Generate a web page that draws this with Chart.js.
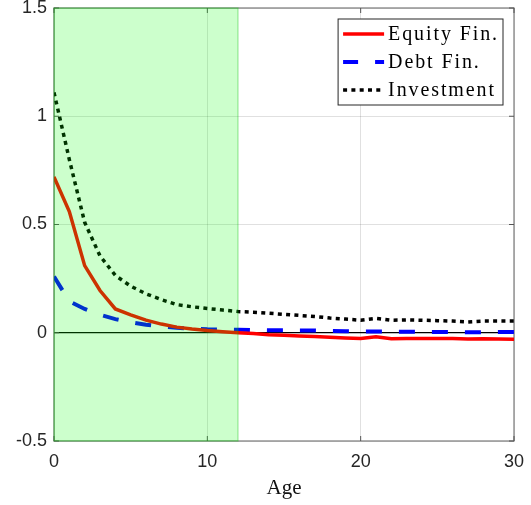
<!DOCTYPE html>
<html>
<head>
<meta charset="utf-8">
<script src="https://cdn.jsdelivr.net/npm/chart.js@4"></script>
<style>
  html, body { margin: 0; padding: 0; background: #fff; }
  #wrap { width: 531px; height: 505px; }
</style>
</head>
<body>
<div id="wrap"><canvas id="chart" width="531" height="505"></canvas></div>
<script>
// data
const ages = [0, 1, 2, 3, 4, 5, 6, 7, 8, 9, 10, 11, 12, 13, 14, 15, 16, 17, 18, 19, 20, 21, 22, 23, 24, 25, 26, 27, 28, 29, 30];
const equityFin = [0.72, 0.56, 0.31, 0.195, 0.11, 0.083, 0.058, 0.04, 0.026, 0.017, 0.01, 0.005, 0.0, -0.004, -0.009, -0.012, -0.015, -0.017, -0.021, -0.024, -0.026, -0.018, -0.028, -0.027, -0.026, -0.027, -0.027, -0.029, -0.028, -0.029, -0.03];
const debtFin = [0.26, 0.145, 0.11, 0.083, 0.063, 0.048, 0.037, 0.029, 0.023, 0.019, 0.016, 0.015, 0.014, 0.012, 0.011, 0.011, 0.01, 0.01, 0.008, 0.007, 0.006, 0.006, 0.005, 0.005, 0.004, 0.004, 0.003, 0.002, 0.003, 0.003, 0.003];
const investment = [1.11, 0.8, 0.51, 0.355, 0.265, 0.215, 0.18, 0.153, 0.13, 0.12, 0.112, 0.105, 0.098, 0.095, 0.09, 0.085, 0.08, 0.075, 0.068, 0.063, 0.058, 0.066, 0.058, 0.059, 0.058, 0.056, 0.054, 0.05, 0.054, 0.054, 0.054];
const seriesNames = ["Equity Fin.", "Debt Fin.", "Investment"];
const xTicks = [0, 10, 20, 30];
const yTicks = [-0.5, 0, 0.5, 1, 1.5];
const shadeAges = [0, 12];

const axisColor = "#262626";
const tickFont = { family: "'Liberation Sans', Arial, sans-serif", size: 18 };
const serif = "'Liberation Serif', 'Times New Roman', serif";

function pairs(vals) {
  return ages.map((a, i) => ({ x: a, y: vals[i] }));
}

const styles = [
  { color: "#ff0000", width: 3.5, dash: [] },
  { color: "#0000ff", width: 4, dash: [16, 17] },
  { color: "#000000", width: 3.5, dash: [4, 4.3] }
];

// axis box + inward ticks
const boxPlugin = {
  id: "box",
  beforeDatasetsDraw(chart) {
    const { ctx, chartArea: a, scales } = chart;
    ctx.save();
    ctx.strokeStyle = "#7a7a7a";
    ctx.lineWidth = 1.2;
    ctx.strokeRect(a.left, a.top, a.right - a.left, a.bottom - a.top);
    ctx.strokeStyle = "#555";
    ctx.lineWidth = 1;
    ctx.beginPath();
    xTicks.forEach(v => {
      const px = scales.x.getPixelForValue(v);
      ctx.moveTo(px, a.bottom); ctx.lineTo(px, a.bottom - 5);
      ctx.moveTo(px, a.top); ctx.lineTo(px, a.top + 5);
    });
    yTicks.forEach(v => {
      const py = scales.y.getPixelForValue(v);
      ctx.moveTo(a.left, py); ctx.lineTo(a.left + 5, py);
      ctx.moveTo(a.right, py); ctx.lineTo(a.right - 5, py);
    });
    ctx.stroke();
    ctx.restore();
  }
};

// translucent green band, drawn over lines
const shadePlugin = {
  id: "shade",
  afterDatasetsDraw(chart) {
    const { ctx, chartArea: a, scales } = chart;
    const x0 = scales.x.getPixelForValue(shadeAges[0]);
    const x1 = scales.x.getPixelForValue(shadeAges[1]);
    ctx.save();
    ctx.fillStyle = "rgba(0,255,0,0.2)";
    ctx.fillRect(x0, a.top, x1 - x0, a.bottom - a.top);
    ctx.strokeStyle = "rgba(0,190,0,0.35)";
    ctx.lineWidth = 1.2;
    ctx.strokeRect(x0, a.top, x1 - x0, a.bottom - a.top);
    ctx.restore();
  }
};

// boxed legend, top right
const legendPlugin = {
  id: "boxLegend",
  afterDraw(chart) {
    const { ctx, chartArea: a } = chart;
    ctx.save();
    ctx.font = "20px " + serif;
    ctx.letterSpacing = "1.9px";
    const textW = Math.max(...seriesNames.map(n => ctx.measureText(n).width));
    const right = a.right - 11;
    const top = a.top + 11;
    const sample = 41;
    const w = 5 + sample + 4 + textW + 4;
    const left = right - w;
    const h = 86;
    ctx.fillStyle = "#fff";
    ctx.fillRect(left, top, w, h);
    ctx.strokeStyle = axisColor;
    ctx.lineWidth = 1;
    ctx.strokeRect(left, top, w, h);
    seriesNames.forEach((name, i) => {
      const cy = top + 15 + i * 28;
      const s = styles[i];
      ctx.beginPath();
      ctx.setLineDash(i === 1 ? [15, 17] : s.dash);
      ctx.lineCap = "butt";
      ctx.strokeStyle = s.color;
      ctx.lineWidth = s.width;
      ctx.moveTo(left + 5, cy);
      ctx.lineTo(left + 5 + sample, cy);
      ctx.stroke();
      ctx.setLineDash([]);
      ctx.fillStyle = "#000";
      ctx.textBaseline = "middle";
      ctx.textAlign = "left";
      ctx.fillText(name, left + 5 + sample + 4, cy + 1);
    });
    ctx.restore();
  }
};

const datasets = [equityFin, debtFin, investment].map((vals, i) => ({
  label: seriesNames[i],
  data: pairs(vals),
  borderColor: styles[i].color,
  borderWidth: styles[i].width,
  borderDash: styles[i].dash,
  borderCapStyle: "butt",
  pointRadius: 0,
  tension: 0,
  fill: false
}));

new Chart(document.getElementById("chart"), {
  type: "line",
  data: { datasets },
  options: {
    responsive: false,
    animation: false,
    devicePixelRatio: 1,
    layout: { padding: { top: 8, right: 17, left: 0, bottom: 0 } },
    plugins: { legend: { display: false }, tooltip: { enabled: false } },
    scales: {
      x: {
        type: "linear",
        min: 0,
        max: 30,
        afterBuildTicks: s => { s.ticks = xTicks.map(v => ({ value: v })); },
        afterFit: s => { s.height = 64; s.paddingLeft = 0; s.paddingRight = 0; },
        grid: { color: "rgba(0,0,0,0.12)", drawTicks: false },
        border: { display: false },
        ticks: { font: tickFont, color: axisColor, padding: 10, maxRotation: 0, callback: v => String(v) },
        title: { display: true, text: "Age", color: "#111", font: { family: serif, size: 21 }, padding: { top: 0, bottom: 4 } }
      },
      y: {
        type: "linear",
        min: -0.5,
        max: 1.5,
        afterBuildTicks: s => { s.ticks = yTicks.map(v => ({ value: v })); },
        afterFit: s => { s.width = 54; s.paddingTop = 0; s.paddingBottom = 0; },
        grid: {
          color: c => (c.tick && c.tick.value === 0 ? "#000" : "rgba(0,0,0,0.12)"),
          lineWidth: c => (c.tick && c.tick.value === 0 ? 1.2 : 1),
          drawTicks: false
        },
        border: { display: false },
        ticks: { font: tickFont, color: axisColor, padding: 7, callback: v => String(v) }
      }
    }
  },
  plugins: [boxPlugin, shadePlugin, legendPlugin]
});
</script>
</body>
</html>
